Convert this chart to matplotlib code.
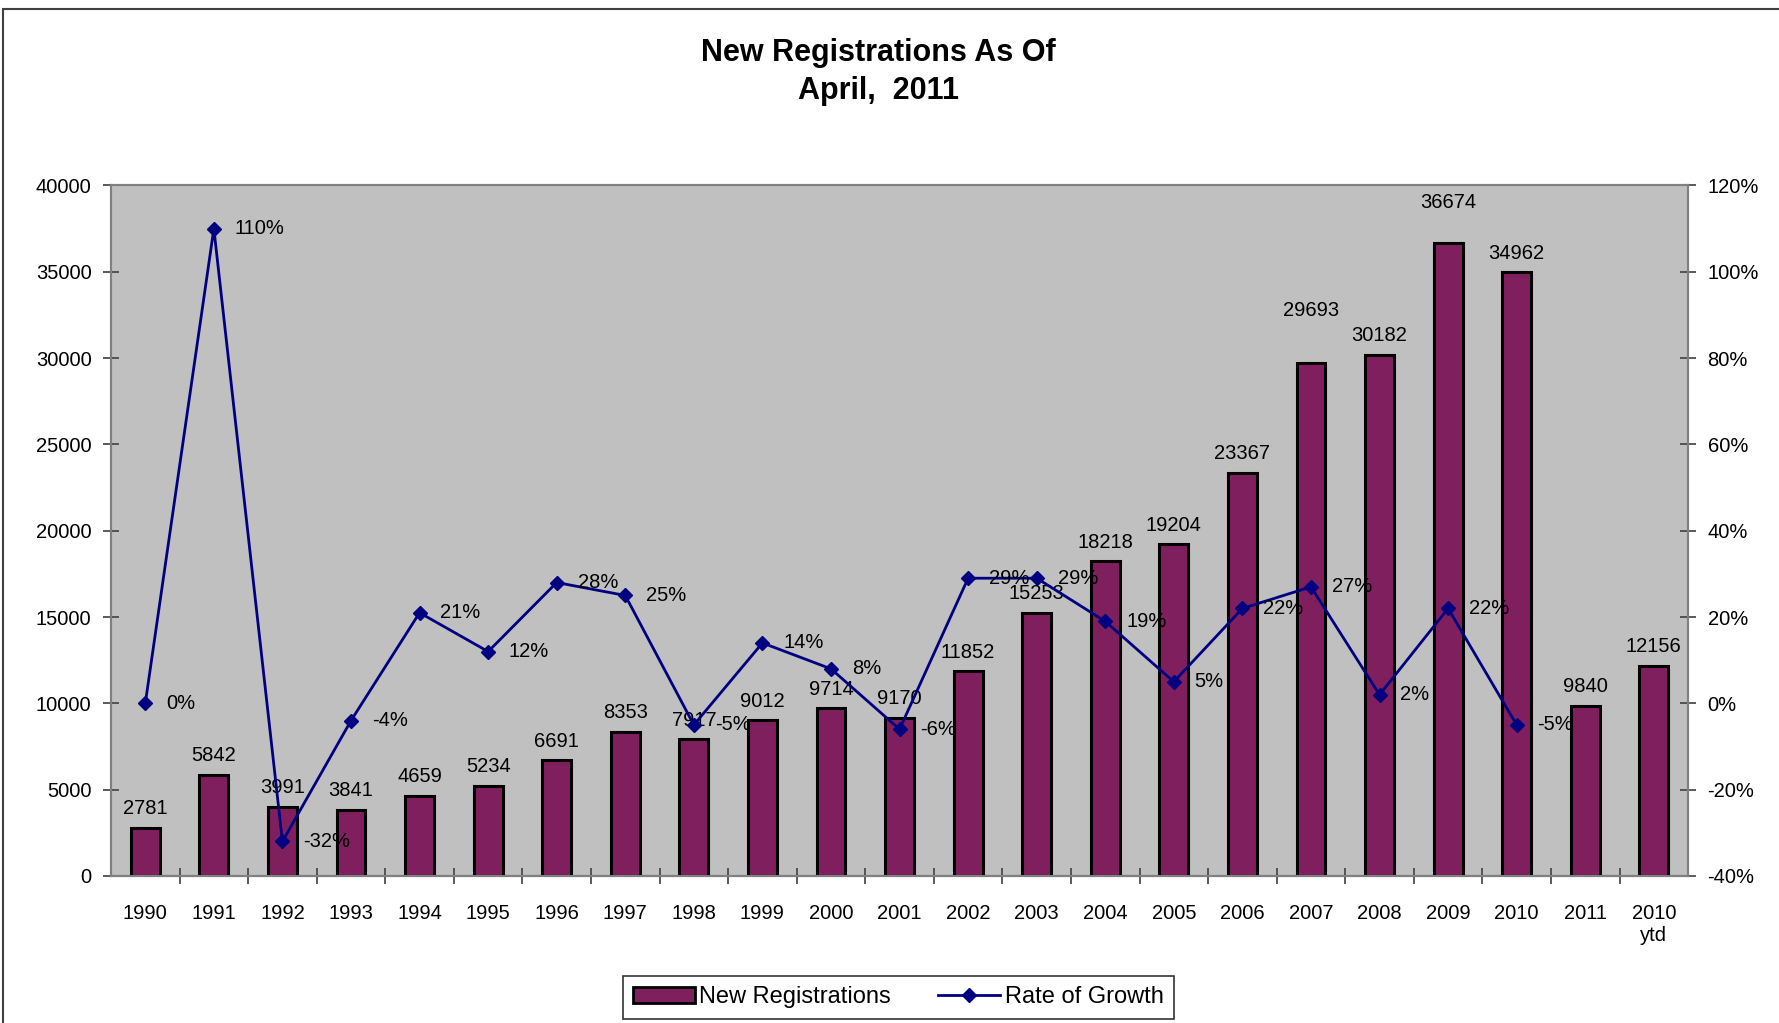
import matplotlib.pyplot as plt
from matplotlib.patches import Rectangle
from matplotlib.lines import Line2D

plt.rcParams['font.family'] = ['Liberation Sans', 'DejaVu Sans']

categories = ['1990', '1991', '1992', '1993', '1994', '1995', '1996', '1997',
              '1998', '1999', '2000', '2001', '2002', '2003', '2004', '2005',
              '2006', '2007', '2008', '2009', '2010', '2011', '2010\nytd']
registrations = [2781, 5842, 3991, 3841, 4659, 5234, 6691, 8353, 7917, 9012,
                 9714, 9170, 11852, 15253, 18218, 19204, 23367, 29693, 30182,
                 36674, 34962, 9840, 12156]
# growth rate in %, only 1990..2010
growth = [0, 110, -32, -4, 21, 12, 28, 25, -5, 14, 8, -6, 29, 29, 19, 5,
          22, 27, 2, 22, -5]

# a couple of labels sit higher in the original
label_lift = {'2007': 24, '2009': 15}

bar_color = '#801F5E'
line_color = '#000080'
fs = 14.5

fig = plt.figure(figsize=(17.79, 10.23), dpi=100)
ax = fig.add_axes([0.0624, 0.1437, 0.8865, 0.675])
ax.set_facecolor('#C0C0C0')

x = list(range(len(categories)))
ax.bar(x, registrations, width=0.42, color=bar_color,
       edgecolor='black', linewidth=2.2, zorder=2)
for xi, c, v in zip(x, categories, registrations):
    ax.annotate(str(v), (xi, v), xytext=(0, 7 + label_lift.get(c, 0)),
                textcoords='offset points', ha='center', va='bottom',
                fontsize=fs, zorder=5)

ax.set_xlim(-0.5, len(categories) - 0.5)
ax.set_ylim(0, 40000)
ax.set_yticks(range(0, 40001, 5000))
ax.set_xticks(x)
ax.set_xticklabels(categories, fontsize=fs)
ax.set_xticks([i + 0.5 for i in range(len(categories) - 1)], minor=True)
ax.tick_params(axis='x', which='major', length=0, pad=20)
ax.tick_params(axis='x', which='minor', length=11, width=1.2, color='#404040', direction='inout')
ax.tick_params(axis='y', which='major', length=12, width=1.2, color='#404040',
               direction='inout', labelsize=fs, pad=8)

ax2 = ax.twinx()
ax2.plot(x[:len(growth)], growth, color=line_color, linewidth=2,
         marker='D', markersize=7, zorder=4)
for xi, g in zip(x, growth):
    ax2.annotate(f'{g}%', (xi, g), xytext=(15, 0), textcoords='offset points',
                 ha='left', va='center', fontsize=fs, zorder=5)
ax2.set_ylim(-40, 120)
ax2.set_yticks(range(-40, 121, 20))
ax2.set_yticklabels([f'{t}%' for t in range(-40, 121, 20)])
ax2.tick_params(axis='y', length=12, width=1.2, color='#404040',
                direction='inout', labelsize=fs, pad=8)

for a in (ax, ax2):
    for s in a.spines.values():
        s.set_color('#808080')
        s.set_linewidth(1.5)
ax.spines['bottom'].set_color('#404040')

fig.text(0.494, 0.93, 'New Registrations As Of\nApril,  2011', ha='center',
         va='center', fontsize=22, fontweight='bold', linespacing=1.35)

handles = [Rectangle((0, 0), 1, 1, facecolor=bar_color, edgecolor='black', linewidth=2),
           Line2D([], [], color=line_color, linewidth=2, marker='D', markersize=7)]
leg = fig.legend(handles, ['New Registrations', 'Rate of Growth'], loc='center',
                 bbox_to_anchor=(0.505, 0.025), ncol=2, fontsize=17,
                 frameon=True, fancybox=False, edgecolor='black',
                 handlelength=2.6, handletextpad=0.2, columnspacing=2.0,
                 borderpad=0.45)
leg.get_frame().set_linewidth(1.2)

# outer chart border
fig.patches.append(Rectangle((0.0015, -0.02), 1.05, 1.011, transform=fig.transFigure,
                             fill=False, edgecolor='#404040', linewidth=1.5))

fig.savefig('out.png', dpi=100)
